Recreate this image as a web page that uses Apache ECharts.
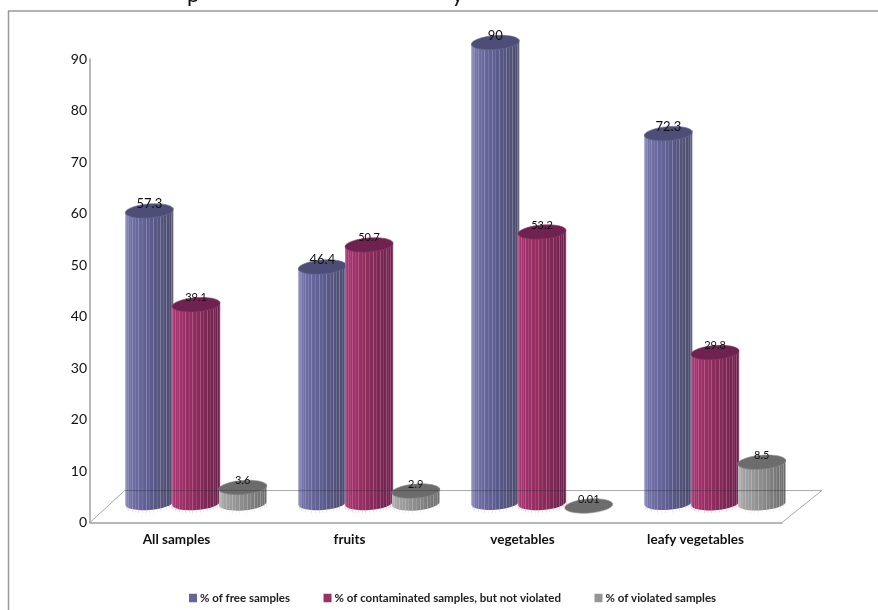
<!DOCTYPE html>
<html>
<head>
<meta charset="utf-8">
<style>html,body{margin:0;padding:0;background:#fff}#c{width:878px;height:610px}</style>
<script src="https://cdn.jsdelivr.net/npm/echarts@6/dist/echarts.min.js"></script>
</head>
<body>
<div id="c"></div>
<script>
const categories = ['All samples', 'fruits', 'vegetables', 'leafy vegetables'];
const freeSamples = [57.3, 46.4, 90, 72.3];
const contaminatedSamples = [39.1, 50.7, 53.2, 29.8];
const violatedSamples = [3.6, 2.9, 0.01, 8.5];
const seriesNames = ['% of free samples', '% of contaminated samples, but not violated', '% of violated samples'];
const palette = [
  {legend:'#666699', top:'#4d4d78', edge:'#6a6a98', l:'#7676aa', m:'#5c5c90', r:'#4c4c68', stripe:'#bcbcdc'},
  {legend:'#993366', top:'#6f2250', edge:'#8e3a68', l:'#a83470', m:'#8c2c5c', r:'#66224a', stripe:'#dc98bc'},
  {legend:'#969696', top:'#6c6c6c', edge:'#8c8c8c', l:'#aaaaaa', m:'#8c8c8c', r:'#6a6a6a', stripe:'#d4d4d4'}
];
const labelSizes = [13, 11, 11];
const STRIPES = 20;
const TILT_DEG = 4.5;

function cylinder(si) {
  return function (params, api) {
    const idx = api.value(0), val = api.value(1);
    const p0 = api.coord([idx, 0]);
    const pv = api.coord([idx, val]);
    const band = api.size([1, 0])[0];
    const unit = api.size([0, 1])[1];
    const cx = p0[0] + band * 0.113 + (si - 1) * band * 0.27;
    const dy = unit * 3.2;
    const base = p0[1] - dy, top = pv[1] - dy;
    const rx = band * 0.139, ry = 7;
    const c = palette[si];
    const a = TILT_DEG * Math.PI / 180;
    const ex = rx * Math.cos(a), ey = rx * Math.sin(a);
    const Lx = cx - ex, Rx = cx + ex;
    const children = [];
    children.push({
      type: 'path',
      shape: {pathData: `M${Lx} ${top + ey}L${Lx} ${base + ey}A${rx} ${ry} ${-TILT_DEG} 0 0 ${Rx} ${base - ey}L${Rx} ${top - ey}A${rx} ${ry} ${-TILT_DEG} 0 1 ${Lx} ${top + ey}Z`,
              x: Lx, y: top - ry - ey, width: 2 * ex, height: base - top + 2 * ry + 2 * ey},
      style: {fill: {type: 'linear', x: 0, y: 0, x2: 1, y2: 0, colorStops: [
        {offset: 0, color: c.l}, {offset: 0.5, color: c.m}, {offset: 1, color: c.r}]}}
    });
    if (base - top >= 1) {
      for (let k = 1; k < STRIPES; k++) {
        const th = Math.PI * k / STRIPES;
        const x = Math.round(cx - ex * Math.cos(th)) + 0.5;
        const off = ry * Math.sin(th) + ey * Math.cos(th);
        children.push({type: 'line', shape: {x1: x, y1: top + off, x2: x, y2: base + off},
          style: {stroke: c.stripe, lineWidth: 1, opacity: k % 2 ? 0.38 : 0.22}});
      }
    }
    children.push({type: 'ellipse', shape: {cx: cx, cy: top, rx: rx, ry: ry},
      originX: cx, originY: top, rotation: a,
      style: {fill: c.top, stroke: c.edge, lineWidth: 0.6}});
    children.push({type: 'text', x: cx, y: top - 7,
      style: {text: String(val), fill: '#111', font: labelSizes[si] + 'px Lato', align: 'center', verticalAlign: 'middle'}});
    return {type: 'group', children: children};
  };
}

function floorLines(params, api) {
  const sys = params.coordSys;
  const band = api.size([1, 0])[0];
  const unit = api.size([0, 1])[1];
  const fy = sys.y + sys.height;
  const by = fy - unit * 6.2;
  const lx = sys.x, rx = sys.x + sys.width;
  const blx = lx + band * 0.2, brx = rx + band * 0.23;
  return {type: 'group', children: [
    {type: 'polyline', shape: {points: [[lx, fy], [blx, by]]}, style: {stroke: '#a6a6a6', lineWidth: 1, fill: null}},
    {type: 'polyline', shape: {points: [[rx, fy], [brx, by]]}, style: {stroke: '#a6a6a6', lineWidth: 1, fill: null}},
    {type: 'line', shape: {x1: blx, y1: by, x2: brx, y2: by}, style: {stroke: 'rgba(50,50,60,0.42)', lineWidth: 1}}
  ]};
}

const seriesData = [freeSamples, contaminatedSamples, violatedSamples];
const chart = echarts.init(document.getElementById('c'), null, {renderer: 'canvas'});
chart.setOption({
  animation: false,
  backgroundColor: '#fff',
  grid: {left: 90, right: 96, top: 59, bottom: 87.5},
  graphic: [
    {type: 'line', shape: {x1: 8.5, y1: 11, x2: 8.5, y2: 610}, style: {stroke: '#9a9a9a', lineWidth: 1.5}},
    {type: 'line', shape: {x1: 8, y1: 11, x2: 878, y2: 11}, style: {stroke: '#9a9a9a', lineWidth: 1.5}},
    {type: 'text', x: 187, y: -16, style: {text: 'p', fill: '#111', font: '22px Lato'}},
    {type: 'text', x: 452, y: -16, style: {text: 'y', fill: '#111', font: '22px Lato'}}
  ],
  legend: {
    left: 189, top: 592, padding: 0, itemWidth: 8, itemHeight: 8.5, itemGap: 33.5, icon: 'rect',
    data: seriesNames,
    textStyle: {fontFamily: 'Lato', fontWeight: 'bold', fontSize: 11.5, color: '#222', padding: [0, 0, 0, -2]}
  },
  xAxis: {
    type: 'category', data: categories,
    axisLine: {lineStyle: {color: '#a0a0a0', width: 1.5}},
    axisTick: {show: false},
    axisLabel: {color: '#111', fontFamily: 'Lato', fontWeight: 'bold', fontSize: 13.5, margin: 10}
  },
  yAxis: {
    type: 'value', min: 0, max: 90, interval: 10,
    axisLine: {show: true, lineStyle: {color: '#a0a0a0', width: 1.5}},
    axisTick: {show: false},
    splitLine: {show: false},
    axisLabel: {color: '#111', fontFamily: 'Lato', fontSize: 14, margin: 3}
  },
  series: seriesNames.map((name, si) => ({
    name: name, type: 'custom', coordinateSystem: 'cartesian2d',
    itemStyle: {color: palette[si].legend}, clip: false, z: 2 + si,
    encode: {x: 0, y: 1},
    renderItem: cylinder(si),
    data: seriesData[si].map((v, i) => [i, v])
  })).concat([{
    name: 'floor', type: 'custom', coordinateSystem: 'cartesian2d', clip: false, z: 9,
    silent: true, encode: {x: 0, y: 1}, renderItem: floorLines, data: [[0, 0]]
  }])
});
</script>
</body>
</html>
